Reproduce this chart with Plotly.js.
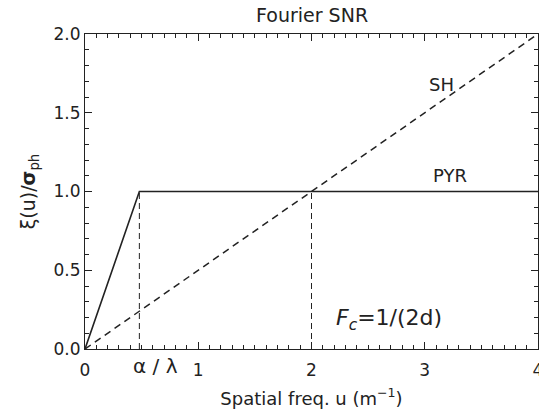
<!DOCTYPE html>
<html>
<head>
<meta charset="utf-8">
<script src="https://cdn.plot.ly/plotly-3.0.1.min.js"></script>
<style>html,body{margin:0;padding:0;background:#fff;}#plot{width:539px;height:414px;}</style>
</head>
<body>
<div id="plot"></div>
<script>
// Data
var pyrX = [0, 0.48, 4];
var pyrY = [0, 1, 1];
var shX = [0, 4];
var shY = [0, 2];
var cut1X = [0.48, 0.48];
var cut1Y = [0, 1];
var cut2X = [2, 2];
var cut2Y = [0, 1];
var xTickVals = [0, 1, 2, 3, 4];
var yTickVals = [0, 0.5, 1, 1.5, 2];
var yTickText = ['0.0', '0.5', '1.0', '1.5', '2.0'];

var ink = '#222';
var FONT = 'DejaVu Sans, sans-serif';

var traces = [
  {x: pyrX, y: pyrY, mode: 'lines', line: {color: ink, width: 1.6}, hoverinfo: 'skip'},
  {x: shX, y: shY, mode: 'lines', line: {color: ink, width: 1.5, dash: '7px,5px'}, hoverinfo: 'skip'},
  {x: cut1X, y: cut1Y, mode: 'lines', line: {color: ink, width: 1, dash: '6px,4px'}, hoverinfo: 'skip'},
  {x: cut2X, y: cut2Y, mode: 'lines', line: {color: ink, width: 1, dash: '6px,4px'}, hoverinfo: 'skip'},
  // invisible trace to carry the mirrored top/right axes
  {x: shX, y: shY, xaxis: 'x2', yaxis: 'y2', mode: 'lines', line: {color: 'rgba(0,0,0,0)', width: 0}, hoverinfo: 'skip'}
];

function tickAxis(extra) {
  var base = {
    ticks: 'inside', ticklen: 7, tickwidth: 1, tickcolor: ink,
    minor: {dtick: 0.1, ticks: 'inside', ticklen: 4, tickwidth: 1, tickcolor: ink},
    showline: true, linecolor: ink, linewidth: 1,
    showgrid: false, zeroline: false
  };
  for (var k in extra) base[k] = extra[k];
  return base;
}

var layout = {
  width: 539, height: 414,
  margin: {l: 85, r: 1, t: 34, b: 65},
  paper_bgcolor: '#fff', plot_bgcolor: '#fff',
  showlegend: false,
  font: {family: FONT, color: ink, size: 17},
  title: {text: 'Fourier SNR', x: 0.579, xanchor: 'center', y: 0.962, yanchor: 'middle',
          font: {family: FONT, size: 19, color: ink}},
  xaxis: tickAxis({
    range: [0, 4], tickvals: xTickVals, ticktext: xTickVals.map(String),
    ticklabeloverflow: 'allow', ticklabelstandoff: 6,
    tickfont: {family: FONT, size: 17, color: ink},
    title: {text: 'Spatial freq. u (m<sup>\u22121</sup>)', standoff: 12,
            font: {family: FONT, size: 18, color: ink}}
  }),
  yaxis: tickAxis({
    range: [0, 2], tickvals: yTickVals, ticktext: yTickText,
    tickfont: {family: FONT, size: 17, color: ink},
    title: {text: '\u03be(u)/<b>\u03c3</b><sub>ph</sub>', standoff: 12,
            font: {family: FONT, size: 19, color: ink}}
  }),
  xaxis2: tickAxis({
    range: [0, 4], tickvals: xTickVals, overlaying: 'x', side: 'top', anchor: 'y2',
    showticklabels: false
  }),
  yaxis2: tickAxis({
    range: [0, 2], tickvals: yTickVals, overlaying: 'y', side: 'right', anchor: 'x2',
    showticklabels: false
  }),
  annotations: [
    {x: 3.15, y: 1.68, xref: 'x', yref: 'y', text: 'SH', showarrow: false,
     font: {family: FONT, size: 18, color: ink}},
    {x: 3.22, y: 1.10, xref: 'x', yref: 'y', text: 'PYR', showarrow: false,
     font: {family: FONT, size: 18, color: ink}},
    {x: 2.68, y: 0.19, xref: 'x', yref: 'y', text: '<i>F</i><sub><i>c</i></sub>=1/(2d)', showarrow: false,
     font: {family: FONT, size: 22, color: ink}},
    {x: 0.62, y: 0, xref: 'x', yref: 'paper', yanchor: 'top', yshift: -3, text: '\u03b1 / \u03bb', showarrow: false,
     font: {family: FONT, size: 20, color: ink}}
  ]
};

Plotly.newPlot('plot', traces, layout, {displayModeBar: false, staticPlot: true});
</script>
</body>
</html>
